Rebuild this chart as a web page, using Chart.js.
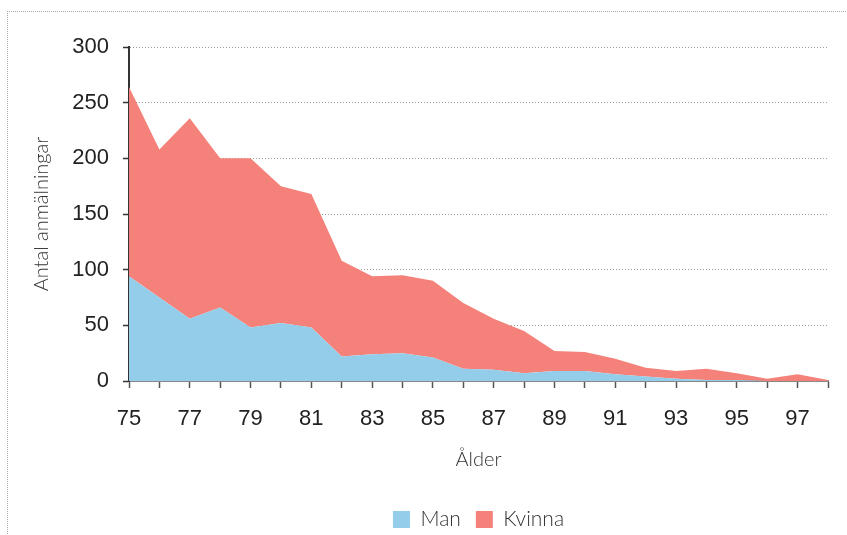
<!DOCTYPE html>
<html>
<head>
<meta charset="utf-8">
<script src="https://cdn.jsdelivr.net/npm/chart.js@4"></script>
<style>
  html, body { margin: 0; padding: 0; background: #ffffff; }
  #wrap { width: 847px; height: 535px; position: relative; }
</style>
</head>
<body>
<div id="wrap"><canvas id="c" width="847" height="535"></canvas></div>
<script>
// Ages (x categories)
const ages = [75,76,77,78,79,80,81,82,83,84,85,86,87,88,89,90,91,92,93,94,95,96,97,98];
// Series values (stacked)
const man    = [94,75,56,66,48,52,48,22,24,25,21,11,10,7,9,9,6,4,2,1,1,0,0,0];
const kvinna = [170,133,180,134,152,123,120,86,70,70,69,59,46,38,18,17,14,8,7,10,6,2,6,1];
// Tick labels shown on the x axis
const xTickLabels = ['75','77','79','81','83','85','87','89','91','93','95','97'];
const yTicks = [0,50,100,150,200,250,300];
const seriesNames = ['Man','Kvinna'];

const outerBorder = {
  id: 'outerBorder',
  beforeDraw(chart) {
    const ctx = chart.ctx;
    ctx.save();
    ctx.strokeStyle = '#a8a8a8';
    ctx.lineWidth = 1;
    ctx.setLineDash([1, 1]);
    ctx.beginPath();
    ctx.moveTo(7, 11.5); ctx.lineTo(847, 11.5);
    ctx.moveTo(7.5, 11); ctx.lineTo(7.5, 535);
    ctx.stroke();
    ctx.restore();
  }
};

new Chart(document.getElementById('c'), {
  type: 'line',
  data: {
    labels: ages,
    datasets: [
      { label: seriesNames[0], data: man, backgroundColor: '#93cdea', borderWidth: 0, pointRadius: 0, fill: 'origin', tension: 0 },
      { label: seriesNames[1], data: kvinna, backgroundColor: '#f4827a', borderWidth: 0, pointRadius: 0, fill: '-1', tension: 0 }
    ]
  },
  options: {
    responsive: false,
    animation: false,
    events: [],
    layout: { padding: { top: 47, right: 19, left: 0, bottom: -5 } },
    plugins: {
      tooltip: { enabled: false },
      legend: {
        position: 'bottom',
        fullSize: false,
        labels: {
          boxWidth: 17, boxHeight: 17, padding: 15,
          color: '#333',
          font: { family: 'Lato', size: 21, weight: '300' }
        }
      }
    },
    scales: {
      x: {
        type: 'category',
        offset: false,
        afterFit(s) { s.height = 113; },
        grid: { drawOnChartArea: false, drawTicks: true, tickLength: 7, tickColor: '#555', tickWidth: 1.5 },
        border: { color: '#888', width: 2 },
        ticks: {
          autoSkip: false, maxRotation: 0, padding: 18,
          color: '#222',
          font: { family: 'Liberation Sans', size: 22 },
          callback(v, i) { const l = String(ages[i]); return xTickLabels.includes(l) ? l : ''; }
        },
        title: {
          display: true, text: 'Ålder', color: '#333',
          font: { family: 'Lato', size: 20, weight: '300' },
          padding: { top: 0, bottom: 22 }
        }
      },
      y: {
        stacked: true,
        min: 0, max: 300,
        afterFit(s) { s.width = 129; },
        afterBuildTicks(s) { s.ticks = yTicks.map(v => ({ value: v })); },
        grid: {
          color(ctx) { return ctx.tick && ctx.tick.value === 0 ? 'rgba(0,0,0,0)' : '#9a9a9a'; },
          lineWidth: 1, tickLength: 6, tickColor: '#333', tickWidth: 1.5
        },
        border: { color: '#333', width: 2, dash: [1, 2] },
        ticks: {
          padding: 14, color: '#222',
          font: { family: 'Liberation Sans', size: 22 }
        },
        title: {
          display: true, text: 'Antal anmälningar', color: '#333',
          font: { family: 'Lato', size: 20, weight: '300' },
          padding: { top: 30, bottom: 0 }
        }
      }
    }
  },
  plugins: [outerBorder]
});
</script>
</body>
</html>
